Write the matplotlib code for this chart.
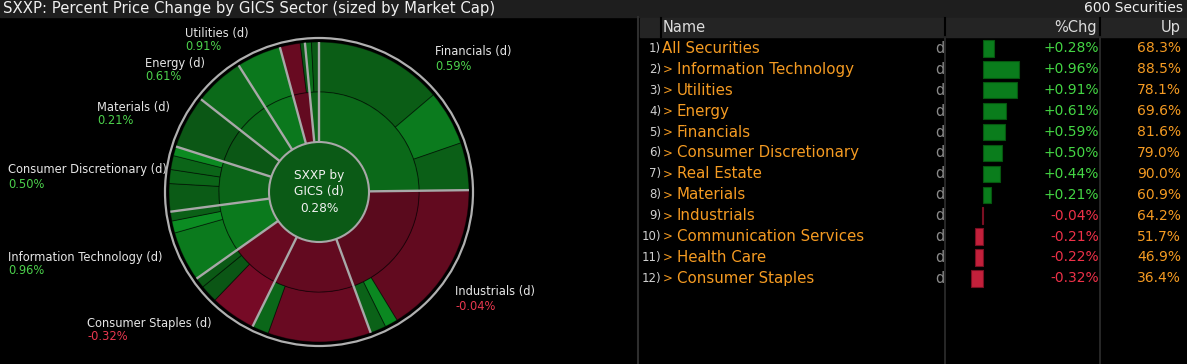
import numpy as np
import matplotlib.pyplot as plt
from matplotlib.patches import Rectangle, Circle

plt.rcParams['font.family'] = ['DejaVu Sans']

W, H = 1187, 364

# ---- table data (sorted by %chg) ----
table_names = ["All Securities", "Information Technology", "Utilities", "Energy",
               "Financials", "Consumer Discretionary", "Real Estate", "Materials",
               "Industrials", "Communication Services", "Health Care", "Consumer Staples"]
table_chg = [0.28, 0.96, 0.91, 0.61, 0.59, 0.50, 0.44, 0.21, -0.04, -0.21, -0.22, -0.32]
table_up = [68.3, 88.5, 78.1, 69.6, 81.6, 79.0, 90.0, 60.9, 64.2, 51.7, 46.9, 36.4]

# ---- sunburst data: sectors clockwise from 12 o'clock ----
ring_sectors = ["Financials", "Industrials", "Health Care", "Consumer Staples",
                "Information Technology", "Consumer Discretionary", "Materials",
                "Energy", "Utilities", "Communication Services", "Real Estate"]
# industry groups inside each sector: market cap share (%) and %chg (estimated)
grp_weight = [[13.8, 5.9, 5.1], [16.5, 1.4, 1.7], [11.1, 1.8], [4.9, 1.9, 1.1],
              [5.4, 1.3, 1.0], [3.0, 1.5, 1.5, 1.0], [5.7], [5.4], [4.8],
              [2.2, 0.5], [0.7, 0.8]]
grp_chg = [[0.35, 0.98, 0.38], [-0.20, 1.25, 0.45], [-0.34, 0.55], [-0.60, 0.20, 0.25],
           [0.95, 1.35, 0.40], [0.30, 0.50, 0.50, 1.30], [0.21], [0.61], [0.91],
           [-0.32, 0.20], [0.70, 0.25]]
index_chg = 0.28

# labels shown around the sunburst
label_sectors = ["Utilities", "Energy", "Materials", "Consumer Discretionary",
                 "Information Technology", "Consumer Staples", "Industrials", "Financials"]
label_xy = [(185, 33), (145, 63), (97, 107), (8, 170), (8, 257), (87, 323), (455, 292), (435, 52)]

chg_of = dict(zip(table_names, table_chg))


def heat(v):
    # green / red heat colour like the terminal map
    if v >= 0:
        g = min(77 + 47 * v, 150)
        return (11 / 255, g / 255, 0.24 * g / 255)
    r = min(88 + 50 * abs(v), 190)
    return (r / 255, 10 / 255, 0.32 * r / 255)


ORANGE = '#f59b22'
GREEN_T = '#44d644'
RED_T = '#ee3148'
GRAY_LINE = '#a8a8a8'

fig = plt.figure(figsize=(W / 100, H / 100), dpi=100, facecolor='black')

# background / text layer in pixel coordinates
bg = fig.add_axes([0, 0, 1, 1])
bg.set_xlim(0, W)
bg.set_ylim(H, 0)
bg.axis('off')
bg.set_facecolor('black')

# title bar
bg.add_patch(Rectangle((0, 0), W, 17, color='#1e1e1e', zorder=0))
bg.text(3, 8.5, "SXXP: Percent Price Change by GICS Sector (sized by Market Cap)",
        color='#f0f0f0', fontsize=10.7, va='center', ha='left')
bg.text(1183, 8.5, "600 Securities", color='#f0f0f0', fontsize=10, va='center', ha='right')

# panel separator and table grid
bg.plot([638, 638], [17, H], color='#2e2e2e', lw=1.5)
bg.add_patch(Rectangle((640, 18), W - 640, 19, color='#242424', zorder=0))
for xs in [661, 945, 1100]:
    bg.plot([xs, xs], [18, 37], color='black', lw=1.5)
for xs in [945, 1100]:
    bg.plot([xs, xs], [37, H], color='#2e2e2e', lw=1.2)
bg.text(663, 27.5, "Name", color='#dcdcdc', fontsize=10.5, va='center', ha='left')
bg.text(1097, 27.5, "%Chg", color='#dcdcdc', fontsize=10.5, va='center', ha='right')
bg.text(1181, 27.5, "Up", color='#dcdcdc', fontsize=10.5, va='center', ha='right')

row0, row_h = 38, 20.9
for i, (name, chg, up) in enumerate(zip(table_names, table_chg, table_up)):
    y = row0 + row_h * (i + 0.5)
    bg.text(661, y, f"{i + 1})", color='#d0d0d0', fontsize=8.5, va='center', ha='right')
    if i == 0:
        bg.text(662, y, name, color=ORANGE, fontsize=10.8, va='center', ha='left')
    else:
        bg.text(663, y, ">", color=ORANGE, fontsize=8.5, va='center', ha='left')
        bg.text(677, y, name, color=ORANGE, fontsize=10.8, va='center', ha='left')
    bg.text(944, y, "d", color='#8a8a8a', fontsize=10.5, va='center', ha='right')
    bg.text(1099, y, f"{chg:+.2f}%", color=GREEN_T if chg >= 0 else RED_T,
            fontsize=10, va='center', ha='right')
    bg.text(1181, y, f"{up:.1f}%", color=ORANGE, fontsize=10, va='center', ha='right')

# bars of %chg
n = len(table_chg)
bax = fig.add_axes([946 / W, (H - (row0 + n * row_h)) / H, 154 / W, n * row_h / H])
px_per_pct = 37.5
bax.set_xlim(-(983 - 946) / px_per_pct, (1100 - 983) / px_per_pct)
bax.set_ylim(n - 0.5, -0.5)
bax.barh(np.arange(n), table_chg, height=0.78,
         color=['#0a7d1c' if v >= 0 else '#c3203b' for v in table_chg],
         edgecolor=['#06560f' if v >= 0 else '#7a0f22' for v in table_chg], linewidth=0.8)
bax.axis('off')

# ---- sunburst ----
cx, cy = 319, 192
pax = fig.add_axes([(cx - 160) / W, (H - cy - 160) / H, 320 / W, 320 / H])
outer_w = [w for g in grp_weight for w in g]
outer_c = [heat(v) for g in grp_chg for v in g]
inner_w = [sum(g) for g in grp_weight]
inner_c = [heat(chg_of[s]) for s in ring_sectors]
edge = dict(edgecolor=(0, 0, 0, 0.45), linewidth=0.7)
pax.pie(outer_w, radius=150, colors=outer_c, startangle=90, counterclock=False,
        wedgeprops=dict(width=50, **edge))
pax.pie(inner_w, radius=100, colors=inner_c, startangle=90, counterclock=False,
        wedgeprops=dict(width=50, **edge))

# sector separators
bounds = 90 - 360 * np.concatenate([[0], np.cumsum(inner_w)]) / np.sum(inner_w)
for a in np.radians(bounds[:-1]):
    pax.plot([50 * np.cos(a), 150 * np.cos(a)], [50 * np.sin(a), 150 * np.sin(a)],
             color=GRAY_LINE, lw=1.7, solid_capstyle='butt', zorder=4)

pax.add_patch(Circle((0, 0), 50, facecolor=heat(index_chg), edgecolor=GRAY_LINE, lw=1.5, zorder=5))
pax.add_patch(Circle((0, 0), 154, fill=False, edgecolor='#b0b0b0', lw=1.6, zorder=5))
pax.text(0, 17, "SXXP by", color='#f0f0f0', fontsize=8.7, ha='center', va='center', zorder=6)
pax.text(0, 0, "GICS (d)", color='#f0f0f0', fontsize=8.7, ha='center', va='center', zorder=6)
pax.text(0, -16, f"{index_chg:.2f}%", color='#f0f0f0', fontsize=8.7, ha='center', va='center', zorder=6)
pax.set_xlim(-160, 160)
pax.set_ylim(-160, 160)
pax.set_aspect('equal')
pax.axis('off')

# sector labels
for s, (lx, ly) in zip(label_sectors, label_xy):
    v = chg_of[s]
    bg.text(lx, ly, f"{s} (d)", color='#e6e6e6', fontsize=8.3, va='center', ha='left')
    bg.text(lx, ly + 14, f"{v:.2f}%", color='#4cd14c' if v >= 0 else '#e8384f',
            fontsize=8.3, va='center', ha='left')

fig.savefig('out.png', dpi=100, facecolor='black')
